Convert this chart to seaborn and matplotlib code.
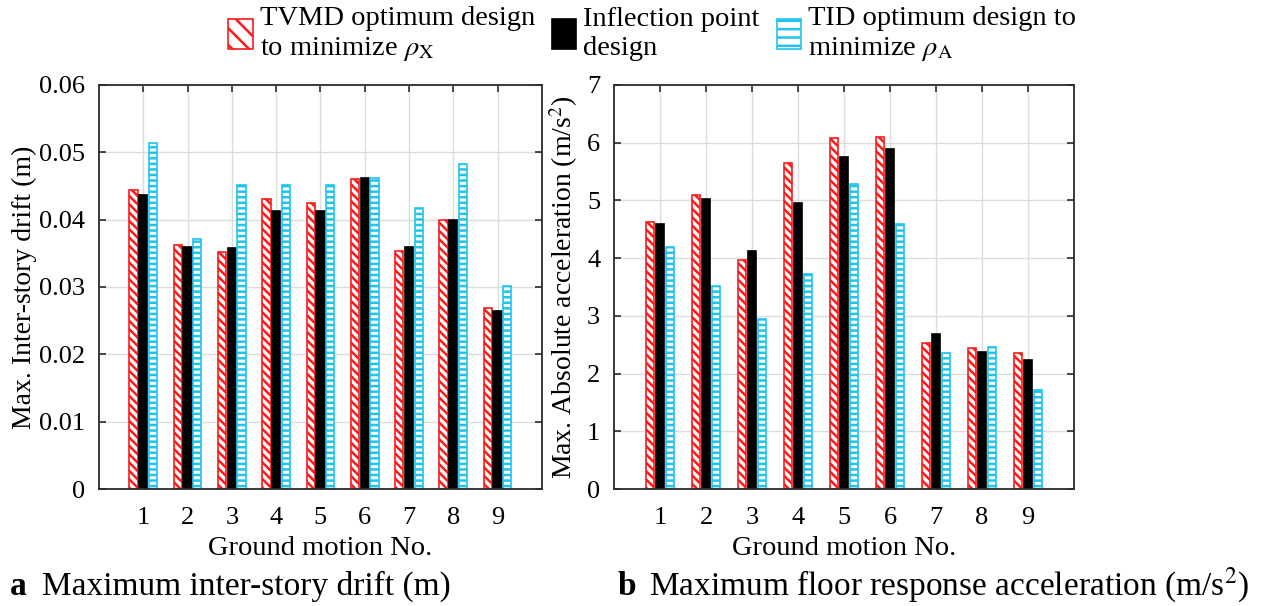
import numpy as np
import pandas as pd
import seaborn as sns
import matplotlib.pyplot as plt
from matplotlib.patches import Patch

sns.set_style("white")
plt.rcParams["font.family"] = ["Liberation Serif", "DejaVu Serif"]
plt.rcParams["mathtext.fontset"] = "stix"
plt.rcParams["hatch.linewidth"] = 1.8
plt.rcParams["text.color"] = "black"
plt.rcParams["axes.labelcolor"] = "black"
plt.rcParams["xtick.color"] = "black"
plt.rcParams["ytick.color"] = "black"

# Ground motion records
motions = ["1", "2", "3", "4", "5", "6", "7", "8", "9"]
designs = ["TVMD", "Inflection", "TID"]

# Maximum inter-story drift (m)
drift_tvmd = [0.0444, 0.0362, 0.0352, 0.0430, 0.0424, 0.0460, 0.0353, 0.0400, 0.0268]
drift_infl = [0.0436, 0.0359, 0.0358, 0.0413, 0.0413, 0.0461, 0.0359, 0.0400, 0.0265]
drift_tid = [0.0513, 0.0371, 0.0452, 0.0451, 0.0452, 0.0462, 0.0417, 0.0482, 0.0302]

# Maximum absolute floor acceleration (m/s^2)
acc_tvmd = [4.62, 5.09, 3.96, 5.65, 6.08, 6.10, 2.53, 2.45, 2.36]
acc_infl = [4.59, 5.03, 4.12, 4.95, 5.75, 5.89, 2.69, 2.38, 2.23]
acc_tid = [4.20, 3.52, 2.94, 3.72, 5.29, 4.59, 2.36, 2.46, 1.72]

legend_labels = [
    "TVMD optimum design\nto minimize $\\rho_{\\mathrm{X}}$",
    "Inflection point\ndesign",
    "TID optimum design to\nminimize $\\rho_{\\mathrm{A}}$",
]

RED = "#ff1a1a"
CYAN = "#1ec3f0"
styles = {
    "TVMD": dict(facecolor="white", edgecolor=RED, hatch="\\\\\\\\"),
    "Inflection": dict(facecolor="black", edgecolor="black", hatch=None),
    "TID": dict(facecolor="white", edgecolor=CYAN, hatch="---"),
}
legend_hatch = {"TVMD": "\\\\", "Inflection": None, "TID": "--"}


def long_frame(series):
    rows = []
    for name, vals in zip(designs, series):
        for m, v in zip(motions, vals):
            rows.append({"motion": m, "design": name, "value": v})
    return pd.DataFrame(rows)


def draw_panel(ax, series, ylim, yticks, yticklabels, ylabel, ylabel_x):
    df = long_frame(series)
    sns.barplot(data=df, x="motion", y="value", hue="design", order=motions,
                hue_order=designs, width=0.66, gap=0.15, ax=ax,
                palette=["white", "black", "white"], legend=False,
                saturation=1, errorbar=None)
    for name, cont in zip(designs, ax.containers):
        st = styles[name]
        for bar in cont.patches:
            bar.set_facecolor(st["facecolor"])
            bar.set_edgecolor(st["edgecolor"])
            bar.set_linewidth(1.2)
            if st["hatch"]:
                bar.set_hatch(st["hatch"])
    ax.set_xlim(-1, 9)
    ax.set_ylim(*ylim)
    ax.set_yticks(yticks)
    ax.set_yticklabels(yticklabels)
    ax.set_xticks(range(len(motions)))
    ax.set_xticklabels(motions)
    ax.grid(True, color="#dcdcdc", linewidth=1.0)
    ax.set_axisbelow(True)
    for sp in ax.spines.values():
        sp.set_visible(True)
        sp.set_color("#2b2b2b")
        sp.set_linewidth(1.3)
    ax.tick_params(direction="in", length=5, width=1.2, color="#2b2b2b",
                   top=True, right=True, bottom=True, left=True,
                   labelsize=19, pad=10)
    ax.tick_params(axis="x", pad=13)
    ax.set_xlabel("Ground motion No.", fontsize=20.5, labelpad=5)
    ax.set_ylabel(ylabel, fontsize=20)
    ax.yaxis.set_label_coords(ylabel_x, 0.5)


fig = plt.figure(figsize=(12.65, 6.06), dpi=100)
ax1 = fig.add_axes([0.0783, 0.193, 0.350, 0.667])
ax2 = fig.add_axes([0.4854, 0.193, 0.3636, 0.667])

draw_panel(ax1, [drift_tvmd, drift_infl, drift_tid], (0, 0.06),
           np.arange(0, 0.061, 0.01),
           ["0", "0.01", "0.02", "0.03", "0.04", "0.05", "0.06"],
           "Max. Inter-story drift (m)", -0.14)
draw_panel(ax2, [acc_tvmd, acc_infl, acc_tid], (0, 7),
           range(0, 8), [str(i) for i in range(8)],
           "Max. Absolute acceleration (m/s$^2$)", -0.074)

handles = [Patch(linewidth=1.2, facecolor=styles[d]["facecolor"],
                 edgecolor=styles[d]["edgecolor"], hatch=legend_hatch[d])
           for d in designs]
fig.legend(handles, legend_labels, loc="upper left", bbox_to_anchor=(0.176, 1.0),
           ncol=3, frameon=False, fontsize=20.5, handlelength=0.85, handleheight=1.25,
           handletextpad=0.25, columnspacing=0.6, labelspacing=0.2, borderpad=0.0,
           borderaxespad=0.2)

fig.text(0.008, 0.018, "a", fontsize=24, fontweight="bold", ha="left", va="baseline")
fig.text(0.033, 0.018, "Maximum inter-story drift (m)", fontsize=24, ha="left", va="baseline")
fig.text(0.488, 0.018, "b", fontsize=24, fontweight="bold", ha="left", va="baseline")
fig.text(0.513, 0.018, "Maximum floor response acceleration (m/s$^2$)", fontsize=24,
         ha="left", va="baseline")

fig.savefig("out.png", dpi=100)
